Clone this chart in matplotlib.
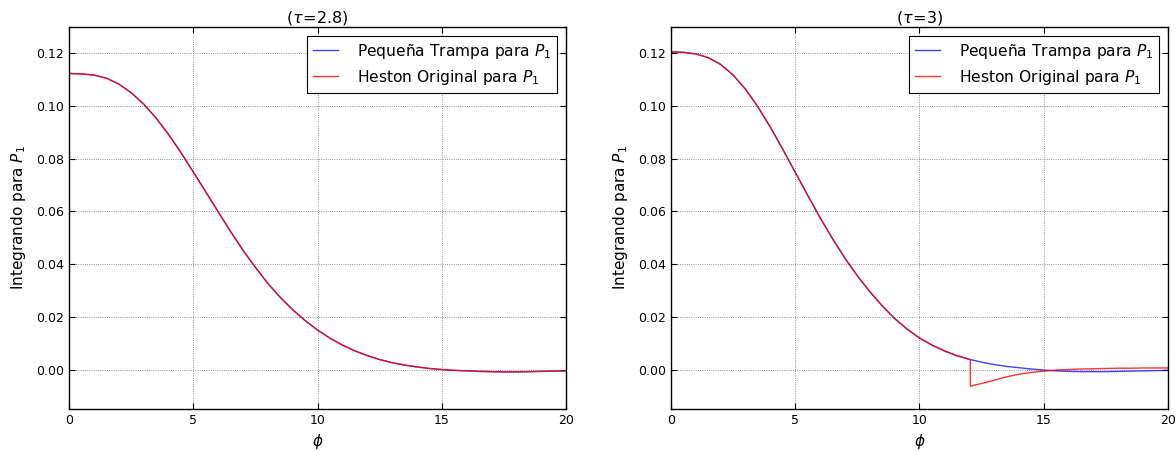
import matplotlib
matplotlib.use('Agg')
import matplotlib.pyplot as plt

# phi grid (step 0.5)
phi = [0, 0.5, 1, 1.5, 2, 2.5, 3, 3.5, 4, 4.5, 5, 5.5, 6, 6.5, 7, 7.5, 8, 8.5, 9, 9.5,
       10, 10.5, 11, 11.5, 12, 12.5, 13, 13.5, 14, 14.5, 15, 15.5, 16, 16.5, 17, 17.5,
       18, 18.5, 19, 19.5, 20]

# tau = 2.8 (both curves overlap)
left_trampa = [0.1124, 0.1122, 0.1118, 0.1106, 0.1084, 0.1051, 0.1008, 0.0955, 0.0893, 0.0824,
               0.0750, 0.0675, 0.0599, 0.0524, 0.0453, 0.0388, 0.0327, 0.0274, 0.0227, 0.0186,
               0.0150, 0.0119, 0.0093, 0.0071, 0.0053, 0.0038, 0.0026, 0.0017, 0.0010, 0.0004,
               0.0000, -0.0003, -0.0005, -0.0007, -0.0008, -0.0009, -0.0009, -0.0008, -0.0007,
               -0.0006, -0.0005]
left_heston = list(left_trampa)

# tau = 3
right_trampa = [0.1206, 0.1204, 0.1198, 0.1184, 0.1158, 0.1118, 0.1064, 0.0997, 0.0920, 0.0836,
                0.0749, 0.0662, 0.0577, 0.0497, 0.0423, 0.0356, 0.0296, 0.0242, 0.0194, 0.0154,
                0.0120, 0.0093, 0.0071, 0.0053, 0.0039, 0.0028, 0.0019, 0.0012, 0.0007, 0.0002,
                -0.0002, -0.0005, -0.0007, -0.0008, -0.0008, -0.0008, -0.0007, -0.0006, -0.0005,
                -0.0004, -0.0003]

# Heston original jumps at phi ~ 12.05
phi_heston_r = [0, 0.5, 1, 1.5, 2, 2.5, 3, 3.5, 4, 4.5, 5, 5.5, 6, 6.5, 7, 7.5, 8, 8.5, 9, 9.5,
                10, 10.5, 11, 11.5, 12, 12.05, 12.05, 12.5, 13, 13.5, 14, 14.5, 15, 15.5, 16,
                16.5, 17, 17.5, 18, 18.5, 19, 19.5, 20]
right_heston = [0.1206, 0.1204, 0.1198, 0.1184, 0.1158, 0.1118, 0.1064, 0.0997, 0.0920, 0.0836,
                0.0749, 0.0662, 0.0577, 0.0497, 0.0423, 0.0356, 0.0296, 0.0242, 0.0194, 0.0154,
                0.0120, 0.0093, 0.0071, 0.0053, 0.0039, 0.0037, -0.0063, -0.0053, -0.0041, -0.0028,
                -0.0018, -0.0011, -0.0006, -0.0002, 0.0000, 0.0002, 0.0003, 0.0004, 0.0005, 0.0005,
                0.0006, 0.0006, 0.0006]

titles = [r'$(\tau\!=\!2.8)$', r'$(\tau\!=\!3)$']

plt.rcParams['font.size'] = 9
plt.rcParams['mathtext.fontset'] = 'dejavusans'

fig = plt.figure(figsize=(11.76, 4.51), dpi=100)
ax1 = fig.add_axes([0.0587, 0.093, 0.4226, 0.847])
ax2 = fig.add_axes([0.5706, 0.093, 0.4224, 0.847])

panels = [(ax1, phi, left_trampa, phi, left_heston, titles[0]),
          (ax2, phi, right_trampa, phi_heston_r, right_heston, titles[1])]

for ax, xb, yb, xr, yr, t in panels:
    ax.plot(xb, yb, color='blue', lw=1, alpha=0.75, label=u'Pequeña Trampa para $P_1$')
    ax.plot(xr, yr, color='red', lw=1, alpha=0.8, label='Heston Original para $P_1$')
    ax.set_xlim(0, 20)
    ax.set_ylim(-0.015, 0.13)
    ax.set_yticks([0.0, 0.02, 0.04, 0.06, 0.08, 0.10, 0.12])
    ax.set_xticks([0, 5, 10, 15, 20])
    ax.grid(True, color='0.45', linestyle=':', linewidth=0.6)
    ax.tick_params(direction='in', top=True, right=True, length=4, labelsize=9)
    ax.set_title(t, fontsize=11.5, pad=3)
    ax.set_xlabel(r'$\phi$', fontsize=11)
    ax.set_ylabel('Integrando para $P_1$', fontsize=11, labelpad=6)
    leg = ax.legend(loc='upper right', fancybox=False, framealpha=1, edgecolor='black',
                    fontsize=11.2, borderaxespad=0.55, borderpad=0.4, labelspacing=0.45,
                    handlelength=1.6, handletextpad=1.2)
    leg.get_frame().set_linewidth(0.8)
    for s in ax.spines.values():
        s.set_linewidth(1)

fig.savefig('out.png', dpi=100)
